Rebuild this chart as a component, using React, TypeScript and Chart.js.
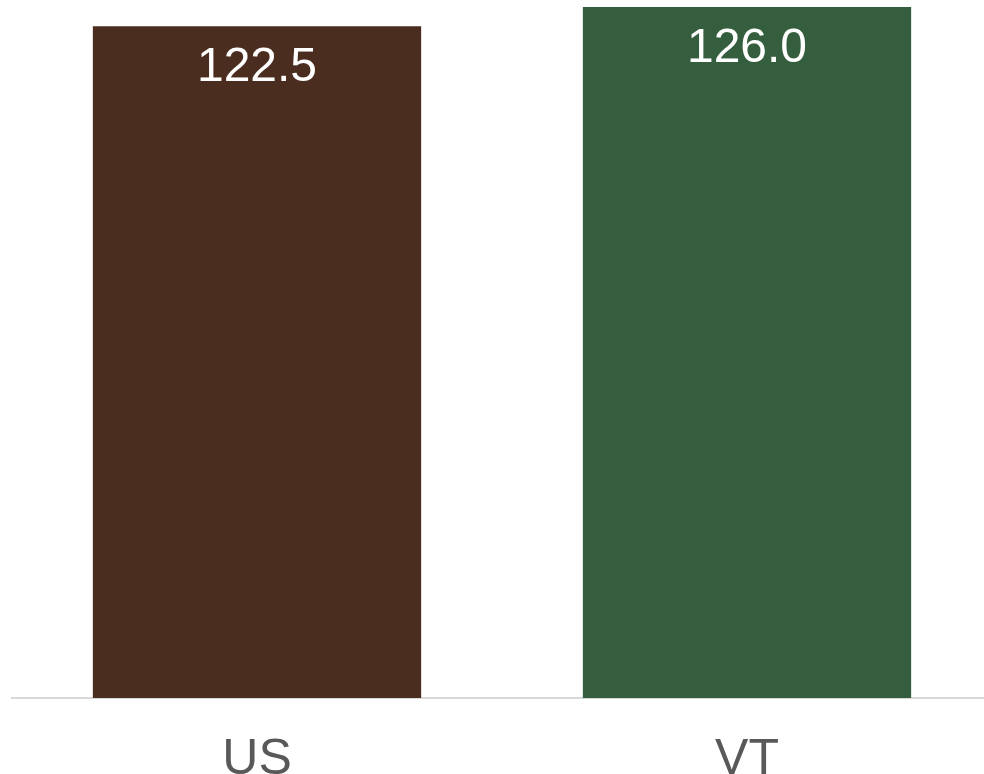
import React, { useEffect, useRef } from "react";
import { Chart, registerables } from "chart.js";

Chart.register(...registerables);

const categories = ["US", "VT"];
const values = [122.5, 126.0];
const barColors = ["#4b2d20", "#345e3d"];

const valueLabelPlugin = {
  id: "valueLabels",
  afterDatasetsDraw(chart: any) {
    const ctx = chart.ctx;
    const meta = chart.getDatasetMeta(0);
    ctx.save();
    ctx.fillStyle = "#ffffff";
    ctx.font = '48px "Liberation Sans", Arial, sans-serif';
    ctx.textAlign = "center";
    ctx.textBaseline = "middle";
    meta.data.forEach((bar: any, i: number) => {
      ctx.fillText(values[i].toFixed(1), bar.x, bar.y + 42);
    });
    ctx.restore();
  },
};

export default function App() {
  const ref = useRef<HTMLCanvasElement>(null);
  useEffect(() => {
    if (!ref.current) return;
    const chart = new Chart(ref.current, {
      type: "bar",
      data: {
        labels: categories,
        datasets: [
          {
            data: values,
            backgroundColor: barColors,
            categoryPercentage: 1,
            barPercentage: 0.67,
          },
        ],
      },
      options: {
        animation: false,
        responsive: false,
        layout: { padding: { left: 12, right: 8, top: 7, bottom: 0 } },
        plugins: { legend: { display: false }, tooltip: { enabled: false } },
        scales: {
          x: {
            grid: { display: false },
            border: { display: true, color: "#d9d9d9", width: 2 },
            ticks: {
              color: "#595959",
              padding: 24,
              font: { family: '"Liberation Sans", Arial, sans-serif', size: 50 },
            },
          },
          y: { display: false, min: 0, max: 126 },
        },
      },
      plugins: [valueLabelPlugin],
    });
    return () => chart.destroy();
  }, []);
  return (
    <div style={{ position: "fixed", left: 0, top: 0, width: 984, height: 774, overflow: "hidden", background: "#fff" }}>
      <canvas ref={ref} width={1000} height={814} style={{ display: "block" }} />
    </div>
  );
}
